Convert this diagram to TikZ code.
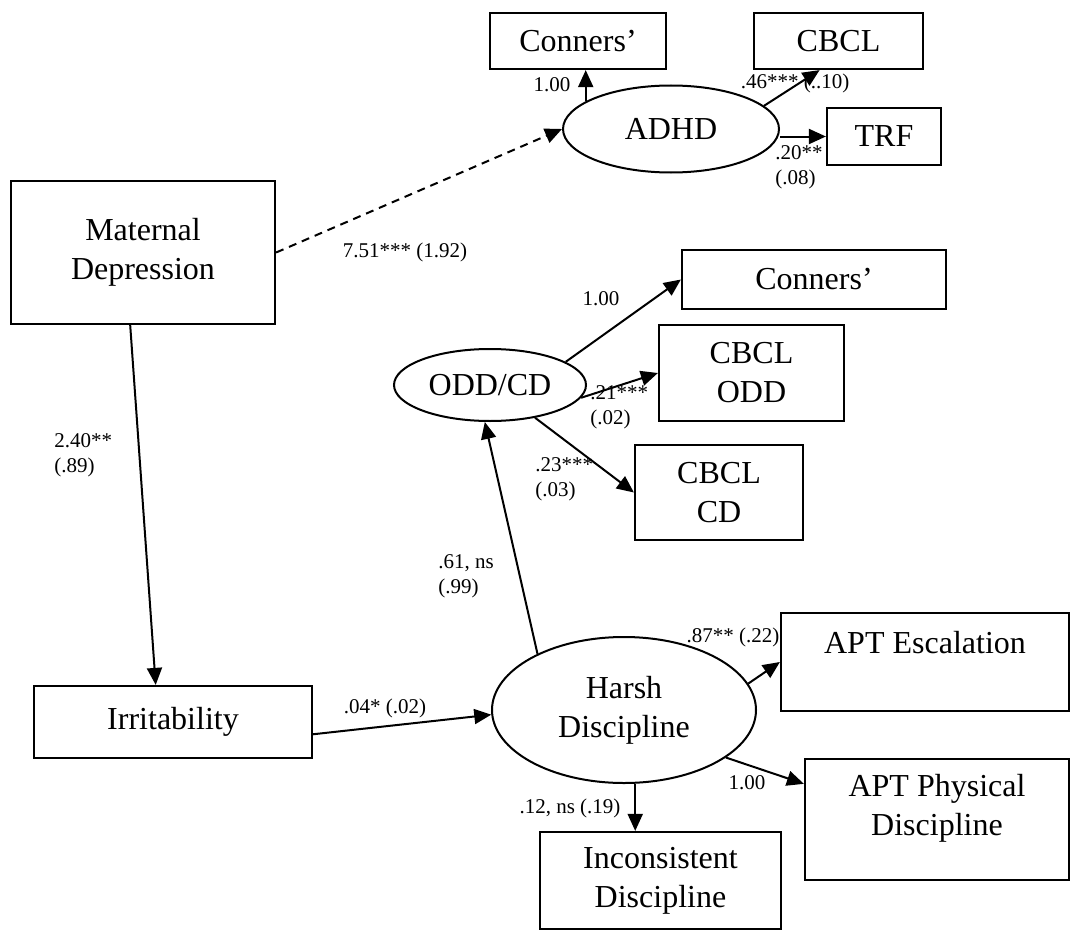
\documentclass[tikz,border=0pt]{standalone}
\usepackage{fontspec}
\setmainfont{Liberation Serif}
\usetikzlibrary{arrows.meta,calc,shapes.geometric}

\begin{document}
\begin{tikzpicture}[
    x=0.5pt, y=-0.5pt,
    >={Triangle[length=8.5pt,width=7.5pt]},
    obs/.style={draw,line width=1.1pt,inner sep=0pt,align=center,font=\fontsize{16}{19.5}\selectfont},
    latent/.style={draw,ellipse,line width=1pt,inner sep=0pt,align=center,font=\fontsize{16}{19.5}\selectfont},
    path arrow/.style={->,line width=1pt},
    coef/.style={inner sep=0pt,align=left,font=\fontsize{10.5}{12.5}\selectfont}
]
\useasboundingbox (0,0) rectangle (1070,931);

% Indicadores observados
\node[obs,minimum width=88pt,minimum height=28pt] (conA) at (578,41) {Conners'};
\node[obs,minimum width=84.5pt,minimum height=28pt] (cbclA) at (838.5,41) {CBCL};
\node[obs,minimum width=57pt,minimum height=28.5pt] (trf) at (884,136.5) {TRF};
\node[obs,minimum width=132pt,minimum height=71.5pt] (matdep) at (143,252.5) {Maternal\\Depression};
\node[obs,minimum width=132pt,minimum height=29.5pt] (conB) at (814,279.5) {Conners'};
\node[obs,minimum width=92.5pt,minimum height=48pt] (cbclOdd) at (751.5,373) {CBCL\\ODD};
\node[obs,minimum width=84pt,minimum height=47.5pt] (cbclCd) at (719,492.5) {CBCL\\CD};
\node[obs,minimum width=139pt,minimum height=36pt] (irr) at (173,722) {Irritability};
\node[obs,minimum width=144pt,minimum height=49pt] (aptEsc) at (925,662) {APT Escalation\\\mbox{}};
\node[obs,minimum width=132pt,minimum height=60.5pt,text depth=15pt] (aptPhys) at (937,819.5) {APT Physical\\Discipline};
\node[obs,minimum width=120.5pt,minimum height=48.5pt] (incons) at (660.5,880.5) {Inconsistent\\Discipline};

% Variaveis latentes
\node[latent,minimum width=108pt,minimum height=43.5pt] (adhd) at (671,129) {ADHD};
\node[latent,minimum width=96pt,minimum height=36pt] (odd) at (490,385) {ODD/CD};
\node[latent,minimum width=132pt,minimum height=73pt] (harsh) at (624,710) {Harsh\\Discipline};

% Cargas e caminhos
\draw[path arrow] (adhd.162) -- (adhd.162 |- conA.south);
\draw[path arrow] (adhd.14) -- (cbclA.237);
\draw[path arrow] (trf.west -| adhd.east) -- (trf.west);
\draw[path arrow,dash pattern=on 4pt off 3pt] (matdep.east) -- (adhd.west);
\draw[path arrow] (matdep.260) -- (irr.115);
\draw[path arrow] (irr.-5) -- (harsh.182);
\draw[path arrow] (harsh.147) -- (odd.262);
\draw[path arrow] (odd.17) -- (conB.west);
\draw[path arrow] (odd.-8) -- (cbclOdd.west);
\draw[path arrow] (odd.-36) -- (cbclCd.west);
\draw[path arrow] (harsh.12) -- (aptEsc.west);
\draw[path arrow] (harsh.-25) -- (aptPhys.165);
\draw[path arrow] (incons.117 |- harsh.south) -- (incons.117);

% Coeficientes (erro padrao)
\node[coef] (lConA) at (552,85) {1.00};
\node[coef] (lCbclA) at (795,83) {.46*** (..10)};
\node[coef,anchor=west] (lTrf) at (775,167) {.20**\\(.08)};
\node[coef] (lMdAdhd) at (405,252) {7.51*** (1.92)};
\node[coef,anchor=west] (lMdIrr) at (54,455) {2.40**\\(.89)};
\node[coef] (lConB) at (601,299) {1.00};
\node[coef,anchor=west] (lCbclOdd) at (590,407) {.21***\\(.02)};
\node[coef,anchor=west] (lCbclCd) at (535,479) {.23***\\(.03)};
\node[coef,anchor=west] (lHarshOdd) at (438,576) {.61, ns\\(.99)};
\node[coef] (lIrrHarsh) at (385,708) {.04* (.02)};
\node[coef] (lAptEsc) at (733,637) {.87** (.22)};
\node[coef] (lAptPhys) at (747,783) {1.00};
\node[coef] (lIncons) at (570,808) {.12, ns (.19)};

\end{tikzpicture}
\end{document}
